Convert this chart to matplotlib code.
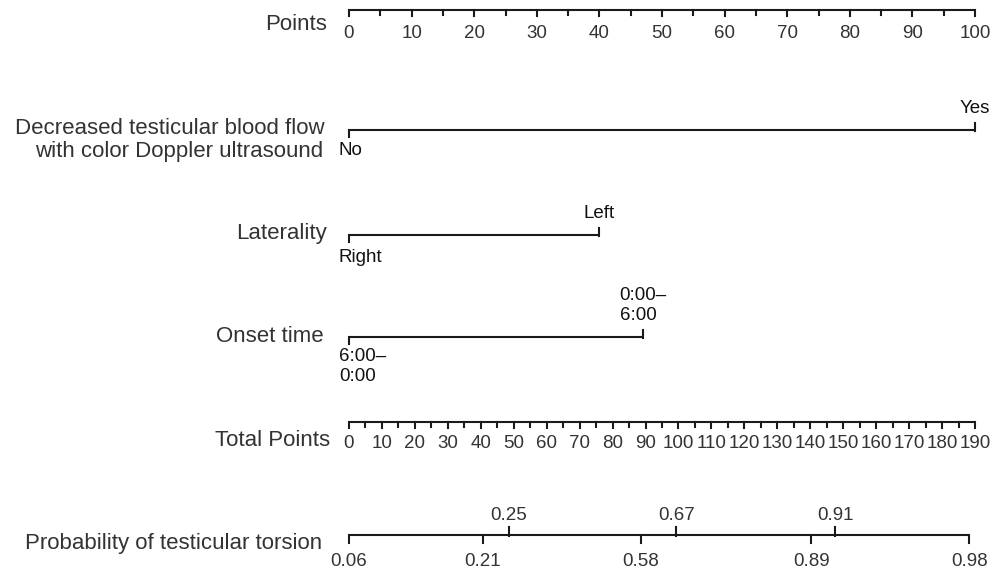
import matplotlib
matplotlib.use("Agg")
import matplotlib.pyplot as plt
import numpy as np

plt.rcParams["font.family"] = ["Liberation Sans", "DejaVu Sans"]

# --- data ---
POINTS_MAX = 100
TOTAL_MAX = 190
points_ticks = np.arange(0, 101, 10)
points_minor = np.arange(0, 101, 5)
total_ticks = np.arange(0, 191, 10)
total_minor = np.arange(0, 191, 5)

flow_levels = ["No", "Yes"]
flow_points = [0, 100]
lat_levels = ["Right", "Left"]
lat_points = [0, 40]
onset_levels = ["6:00–\n0:00", "0:00–\n6:00"]
onset_points = [0, 47]

# probability labels and their position on the total-points scale
prob_low = ["0.06", "0.21", "0.58", "0.89", "0.98"]
prob_low_total = [0, 40.6, 88.5, 140.3, 188.2]
prob_high = ["0.25", "0.67", "0.91"]
prob_high_total = [48.5, 99.4, 147.6]

LW = 1.5
COL = "#1a1a1a"
TXT = "#333333"
FS = 16      # row labels
FS_T = 13.5  # tick / level labels

fig = plt.figure(figsize=(9.92, 5.68), dpi=100)
ax = fig.add_axes([0, 0, 1, 1])
px = 6.26  # pixels per point
x0 = 349
ax.set_xlim(-x0 / px, (992 - x0) / px)
ax.set_ylim(568, 0)
ax.axis("off")


def xr(pix):
    """pixel offset -> points units"""
    return pix / px


def row_label(y, text, right=-22):
    ax.text(xr(right), y, text, ha="right", va="center", fontsize=FS, color=TXT)


def to_pts(t):
    return t * POINTS_MAX / TOTAL_MAX


def scale_axis(y, vals, minor, conv, label_dy):
    ax.plot([conv(minor[0]), conv(minor[-1])], [y, y], color=COL, lw=LW,
            solid_capstyle="butt")
    for m in minor:
        ln = 6 if m % 10 == 0 else 4.5
        ax.plot([conv(m), conv(m)], [y - 0.5, y + ln], color=COL, lw=LW)
    for v in vals:
        ax.text(conv(v), y + label_dy, str(v), ha="center", va="center",
                fontsize=FS_T, color=TXT)


def cat_axis(y, pts, levels, low_dy, high_dy):
    ax.plot([pts[0], pts[-1]], [y, y], color=COL, lw=LW, solid_capstyle="butt")
    ax.plot([pts[0], pts[0]], [y - 0.5, y + 7], color=COL, lw=LW)
    ax.text(pts[0] - xr(10), y + low_dy, levels[0], ha="left", va="top",
            fontsize=FS_T, color="#111111", linespacing=1.25)
    ax.plot([pts[-1], pts[-1]], [y + 0.5, y - 7], color=COL, lw=LW)
    ax.text(pts[-1], y - high_dy, levels[-1], ha="center", va="bottom",
            fontsize=FS_T, color="#111111", linespacing=1.25,
            multialignment="left")


# Points
scale_axis(10, points_ticks, points_minor, lambda v: v, 23)
row_label(25, "Points")

# Decreased blood flow
cat_axis(130, flow_points, flow_levels, 12, 13)
row_label(129, "Decreased testicular blood flow", right=-24)
row_label(151, "with color Doppler ultrasound", right=-26)

# Laterality
cat_axis(235, lat_points, lat_levels, 14, 13)
row_label(233, "Laterality")

# Onset time
cat_axis(337, onset_points, onset_levels, 11, 13)
row_label(336, "Onset time", right=-25)

# Total points
scale_axis(422, total_ticks, total_minor, to_pts, 22)
row_label(440, "Total Points", right=-19)

# Probability
yp = 535
ax.plot([to_pts(prob_low_total[0]), to_pts(prob_low_total[-1])], [yp, yp],
        color=COL, lw=LW, solid_capstyle="butt")
for t, lab in zip(prob_low_total, prob_low):
    x = to_pts(t)
    ax.plot([x, x], [yp - 0.5, yp + 8], color=COL, lw=LW)
    ax.text(x, yp + 26, lab, ha="center", va="center", fontsize=FS_T, color=TXT)
for t, lab in zip(prob_high_total, prob_high):
    x = to_pts(t)
    ax.plot([x, x], [yp + 0.5, yp - 8], color=COL, lw=LW)
    ax.text(x, yp - 19, lab, ha="center", va="center", fontsize=FS_T, color=TXT)
row_label(543, "Probability of testicular torsion", right=-27)

fig.savefig("out.png", dpi=100, facecolor="white")
